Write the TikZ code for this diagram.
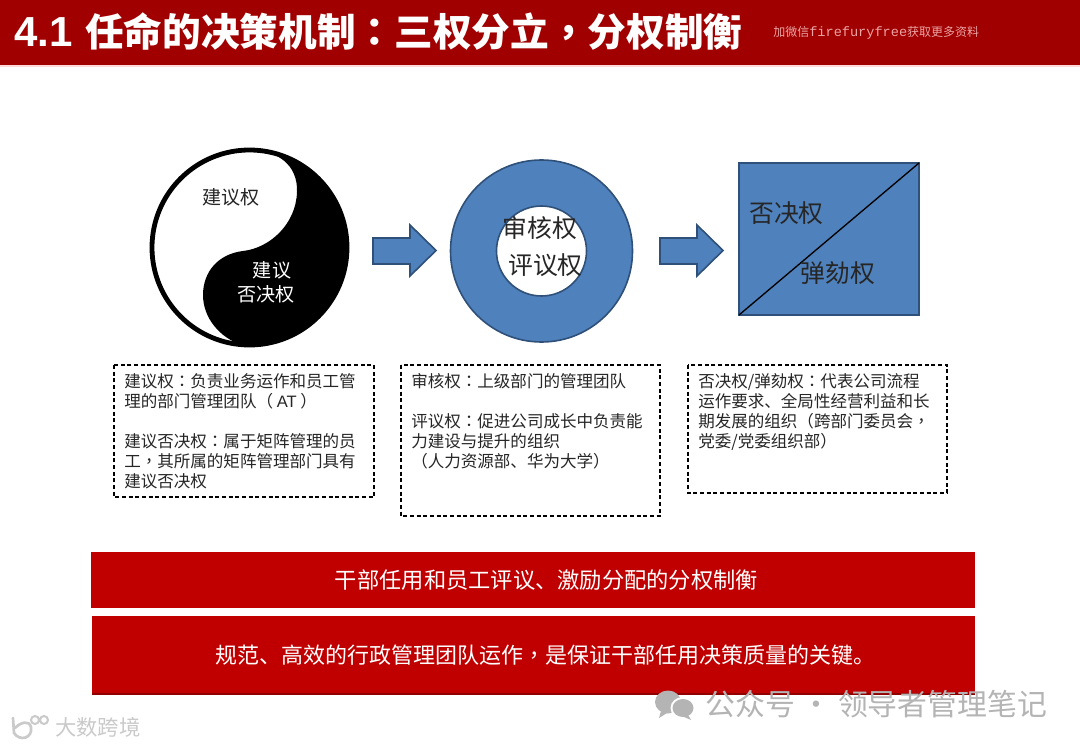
\documentclass[tikz,border=0pt]{standalone}
\usepackage{fontspec}
\setmainfont{Noto Sans CJK SC}
\newfontfamily\cjktc{Noto Sans CJK TC}
\newfontfamily\latinfont{Liberation Sans}
\newfontfamily\latinmono{Liberation Mono}
\newcommand{\cp}{{\cjktc ：}}
\newcommand{\cc}{{\cjktc ，}}
\definecolor{hdr}{HTML}{A00000}
\definecolor{barred}{HTML}{C00000}
\definecolor{bluefill}{HTML}{4F81BD}
\definecolor{blueline}{HTML}{2F5078}
\definecolor{wmgray}{HTML}{B4B4B4}
\tikzset{
  bluepart/.style={fill=bluefill,draw=blueline,line width=1.2pt},
  notebox/.style={draw=black,line width=1pt,dash pattern=on 3pt off 2pt},
  notetext/.style={anchor=north west,inner sep=0pt,align=left,font=\fontsize{12.4}{15}\selectfont,text=black!85},
  bigtext/.style={inner sep=0pt,font=\fontsize{18.6}{20}\selectfont,text=black!85},
  bartext/.style={inner sep=0pt,text=white},
  redbar/.style={fill=barred,draw=none},
}
\begin{document}
\begin{tikzpicture}[x=0.75pt,y=-0.75pt]
\useasboundingbox (0,0) rectangle (1080,748);
\fill[white] (0,0) rectangle (1080,748);
% header
\fill[hdr] (0,0) rectangle (1080,65);
\fill[red!15] (0,65) rectangle (1080,67);
\node[anchor=base west,inner sep=0pt,text=white,font=\fontsize{29}{30}\selectfont\bfseries] (title) at (14,46.5)
  {{\latinfont\fontsize{31.5}{30}\selectfont 4.1}\hspace{9.5pt}任命的决策机制\cp 三权分立\cc 分权制衡};
\node[anchor=base west,inner sep=0pt,text=red!20!white!80!hdr,font=\fontsize{9}{10}\selectfont] (wx) at (773,37)
  {加微信{\latinmono\fontsize{10.2}{10}\selectfont firefuryfree}获取更多资料};
% taiji
\fill[white] (249.5,247.5) circle (97.5);
\fill[black] (247,149)
  .. controls (278,150) and (298,165) .. (297,192)
  .. controls (296,224) and (270,248) .. (243,251)
  .. controls (218,254) and (203,272) .. (203,295)
  .. controls (203,318) and (220,338) .. (242,345)
  .. controls (305,352) and (348,300) .. (348,247)
  .. controls (348,195) and (305,150) .. (247,149) -- cycle;
\draw[black,line width=3.6pt] (249.5,247.5) circle (97.5);
\node[inner sep=0pt,text=black!85,font=\fontsize{14.3}{16}\selectfont] (jy) at (231,197) {建议权};
\node[inner sep=0pt,text=white,font=\fontsize{14.3}{16}\selectfont] (jyb) at (272,270.5) {建议};
\node[inner sep=0pt,text=white,font=\fontsize{14.3}{16}\selectfont] (fj) at (266,294) {否决权};
% arrows
\draw[bluepart] (373,238) -- (410,238) -- (410,225) -- (436,250.5) -- (410,276) -- (410,264) -- (373,264) -- cycle;
\draw[bluepart] (660,238) -- (697,238) -- (697,225) -- (723,250.5) -- (697,276) -- (697,264) -- (660,264) -- cycle;
% ring
\draw[bluepart,even odd rule] (541.5,251) circle (91) (541.5,251) circle (45);
\node[bigtext] (sh) at (540,228) {审核权};
\node[bigtext] (py) at (545.5,265) {评议权};
% square
\draw[bluepart] (739,163) rectangle (919,315);
\draw[black,line width=1pt] (739,315) -- (919,163);
\node[bigtext] (fjq) at (786.5,213) {否决权};
\node[bigtext] (thq) at (838,273) {弹劾权};
% dashed boxes
\draw[notebox] (114,365) rectangle (374,497);
\draw[notebox] (401,365) rectangle (660,516);
\draw[notebox] (688,365) rectangle (947,493);
\node[notetext] (n1) at (124,373) {建议权\cp 负责业务运作和员工管\\理的部门管理团队（ {\latinfont AT} ）\\[15pt]建议否决权\cp 属于矩阵管理的员\\工\cc 其所属的矩阵管理部门具有\\建议否决权};
\node[notetext] (n2) at (411,373) {审核权\cp 上级部门的管理团队\\[15pt]评议权\cp 促进公司成长中负责能\\力建设与提升的组织\\（人力资源部、华为大学）};
\node[notetext] (n3) at (698,373) {否决权/弹劾权\cp 代表公司流程\\运作要求、全局性经营利益和长\\期发展的组织（跨部门委员会\cc \\党委/党委组织部）};
% red bars
\fill[redbar] (91,552) rectangle (975,608);
\fill[redbar] (92,616) rectangle (975,694);
\fill[barred!75!black] (92,693) rectangle (975,695);
\node[bartext,font=\fontsize{16.7}{18}\selectfont] (b1) at (546.5,580) {干部任用和员工评议、激励分配的分权制衡};
\node[bartext,font=\fontsize{16.5}{18}\selectfont] (b2) at (545,655) {规范、高效的行政管理团队运作\cc 是保证干部任用决策质量的关键。};
% watermarks
\fill[wmgray] (668,702) ellipse (13 and 11.5);
\fill[wmgray] (661,711) -- (659,718) -- (667,713) -- cycle;
\fill[white] (683,708) ellipse (12.5 and 11);
\fill[wmgray] (683,708) ellipse (10.5 and 9);
\fill[wmgray] (688,715) -- (691,720) -- (682,716) -- cycle;
\node[anchor=base west,inner sep=0pt,text=wmgray,font=\fontsize{22.4}{24}\selectfont] (gzh) at (705,715) {公众号 · 领导者管理笔记};
\draw[wmgray!70!white,line width=2pt,line cap=round] (13,718) -- (14,733) .. controls (20,742) and (33,738) .. (31,727) .. controls (29,720) and (21,722) .. (15,728);
\draw[wmgray!70!white,line width=1.5pt] (35,720) circle (4) (44,720) circle (4);
\node[anchor=base west,inner sep=0pt,text=wmgray!70!white,font=\fontsize{16}{16}\selectfont] (dk) at (55,735) {大数跨境};
\end{tikzpicture}
\end{document}
